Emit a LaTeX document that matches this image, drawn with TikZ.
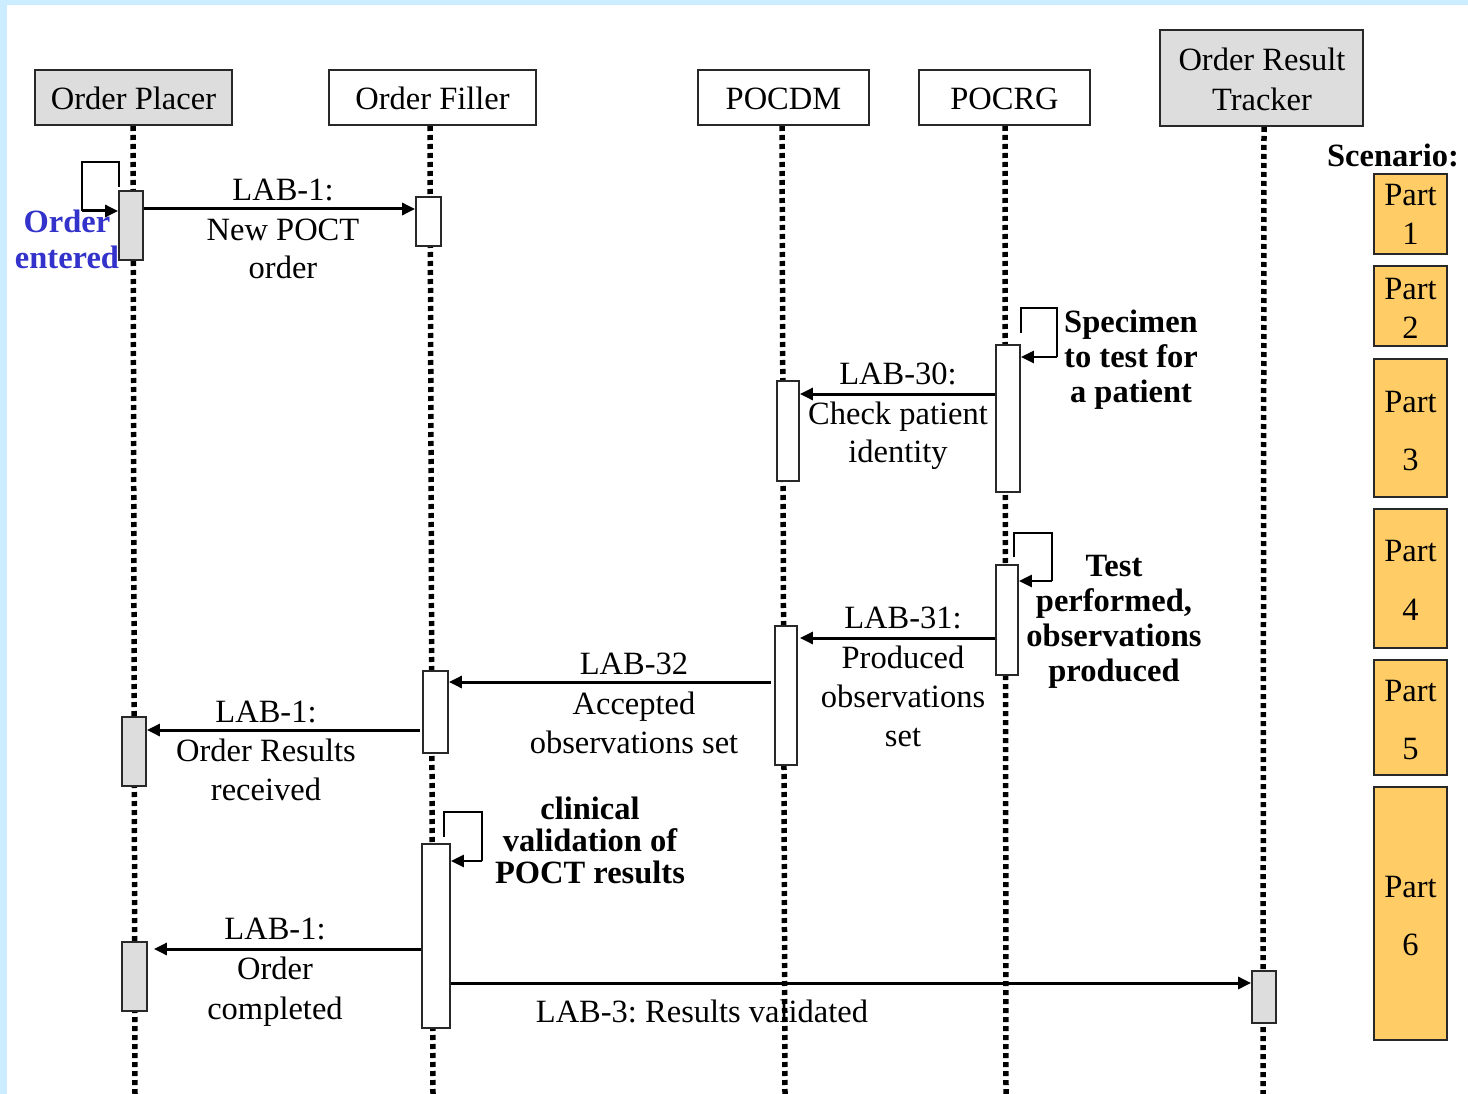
\documentclass[tikz,border=0pt]{standalone}
\usepackage{fontspec}
\setmainfont{Liberation Serif}
\usetikzlibrary{arrows.meta,calc}
\definecolor{bgblue}{RGB}{204,236,255}
\definecolor{actgray}{RGB}{221,221,221}
\definecolor{partorange}{RGB}{255,204,102}
\definecolor{bluetxt}{RGB}{51,51,204}
\definecolor{edgec}{RGB}{40,40,40}
\pgfdeclarelayer{bgl}
\pgfdeclarelayer{msgs}
\pgfdeclarelayer{lines}
\pgfsetlayers{bgl,msgs,lines,main}
\frenchspacing
\begin{document}
\begin{tikzpicture}[x=1pt,y=-1pt,
  txt/.style={font=\fontsize{32.5}{39}\selectfont, inner sep=0pt, anchor=base},
  btxt/.style={font=\fontsize{32.5}{39}\selectfont\bfseries, inner sep=0pt, anchor=base},
  hdr/.style={draw=edgec, line width=1.8pt, rectangle, inner sep=0pt, fill=white, font=\fontsize{32.5}{39}\selectfont, text height=25pt, text depth=0pt},
  act/.style={draw=edgec, line width=1.8pt, fill=white, rectangle, inner sep=0pt},
  lifeline/.style={line width=5.5pt, dash pattern=on 5pt off 4pt},
  msg/.style={line width=3pt, -{Triangle[length=13pt,width=12pt]}},
  loopline/.style={line width=1.8pt},
  partbox/.style={draw=edgec, line width=1.8pt, fill=partorange, rectangle, inner sep=0pt, minimum width=73pt},
]
\useasboundingbox (0,0) rectangle (1468,1094);
\begin{pgfonlayer}{bgl}
\fill[bgblue] (0,0) rectangle (1468,1094);
\fill[white] (7,5) rectangle (1468,1094);
\end{pgfonlayer}

% headers
\node[hdr, fill=actgray, minimum width=197pt, minimum height=55pt] (hop) at (133.5,97.5) {Order Placer};
\node[hdr, minimum width=207pt, minimum height=55pt] (hof) at (432.5,97.5) {Order Filler};
\node[hdr, minimum width=171pt, minimum height=55pt] (hdm) at (783.5,97.5) {POCDM};
\node[hdr, minimum width=171pt, minimum height=55pt] (hrg) at (1004.5,97.5) {POCRG};
\node[hdr, fill=actgray, minimum width=203pt, minimum height=96pt] (hort) at (1261.5,78) {};
\node[txt] (tort1) at (1262,71) {Order Result};
\node[txt] (tort2) at (1262,111) {Tracker};

% lifeline ends
\coordinate (op0) at (133,126); \coordinate (opE) at (135,1094);
\coordinate (of0) at (430,126); \coordinate (ofE) at (433,1094);
\coordinate (dm0) at (782,126); \coordinate (dmE) at (785,1094);
\coordinate (rg0) at (1005,126); \coordinate (rgE) at (1006,1094);
\coordinate (or0) at (1264,127); \coordinate (orE) at (1263,1094);
\begin{pgfonlayer}{lines}
\draw[lifeline] (op0) -- (opE);
\draw[lifeline] (of0) -- (ofE);
\draw[lifeline] (dm0) -- (dmE);
\draw[lifeline] (rg0) -- (rgE);
\draw[lifeline] (or0) -- (orE);
\end{pgfonlayer}

% activation boxes
\node[act, fill=actgray, minimum width=24pt, minimum height=69pt] (op1) at (131,225.5) {};
\node[act, minimum width=25pt, minimum height=49pt] (of1) at (428.5,221.5) {};
\node[act, minimum width=24pt, minimum height=147pt] (rg1) at (1008,418.5) {};
\node[act, minimum width=22pt, minimum height=100pt] (dm1) at (788,431) {};
\node[act, minimum width=22pt, minimum height=110pt] (rg2) at (1007,620) {};
\node[act, minimum width=22pt, minimum height=139pt] (dm2) at (786,695.5) {};
\node[act, minimum width=25pt, minimum height=82pt] (of2) at (435.5,712) {};
\node[act, fill=actgray, minimum width=24pt, minimum height=69pt] (op2) at (134,751.5) {};
\node[act, minimum width=28pt, minimum height=184pt] (of3) at (436,936) {};
\node[act, fill=actgray, minimum width=25pt, minimum height=69pt] (op3) at (134.5,976.5) {};
\node[act, fill=actgray, minimum width=24pt, minimum height=52pt] (ort1) at (1264,997) {};

% scenario parts
\node[btxt] (scen) at (1393,167) {Scenario:};
\node[partbox, minimum height=80pt] (p1) at (1410.5,214) {};
\node[partbox, minimum height=80pt] (p2) at (1410.5,306) {};
\node[partbox, minimum height=138pt] (p3) at (1410.5,428) {};
\node[partbox, minimum height=139pt] (p4) at (1410.5,578.5) {};
\node[partbox, minimum height=115pt] (p5) at (1410.5,717.5) {};
\node[partbox, minimum height=253pt] (p6) at (1410.5,913.5) {};
\node[txt] at (1410.5,206) {Part}; \node[txt] at (1410.5,245) {1};
\node[txt] at (1410.5,299) {Part}; \node[txt] at (1410.5,338) {2};
\node[txt] at (1410.5,412) {Part}; \node[txt] at (1410.5,470) {3};
\node[txt] at (1410.5,561) {Part}; \node[txt] at (1410.5,620) {4};
\node[txt] at (1410.5,701) {Part}; \node[txt] at (1410.5,759) {5};
\node[txt] at (1410.5,897) {Part}; \node[txt] at (1410.5,955) {6};

\begin{pgfonlayer}{msgs}
% labels
\node[txt] at (283,201) {LAB-1:};
\node[txt] at (283,241) {New POCT};
\node[txt] at (283,279) {order};
\node[btxt, text=bluetxt] at (67,233) {Order};
\node[btxt, text=bluetxt] at (67,269) {entered};
\node[btxt] at (1131,332) {Specimen};
\node[btxt] at (1131,367) {to test for};
\node[btxt] at (1131,402) {a patient};
\node[txt] at (898,384) {LAB-30:};
\node[txt] at (898,424) {Check patient};
\node[txt] at (898,462) {identity};
\node[btxt] at (1114,576) {Test};
\node[btxt] at (1114,611) {performed,};
\node[btxt] at (1114,646) {observations};
\node[btxt] at (1114,681) {produced};
\node[txt] at (903,628) {LAB-31:};
\node[txt] at (903,668) {Produced};
\node[txt] at (903,707) {observations};
\node[txt] at (903,746) {set};
\node[txt] at (634,674) {LAB-32};
\node[txt] at (634,714) {Accepted};
\node[txt] at (634,753) {observations set};
\node[txt] at (266,722) {LAB-1:};
\node[txt] at (266,761) {Order Results};
\node[txt] at (266,800) {received};
\node[btxt] at (590,819) {clinical};
\node[btxt] at (590,851) {validation of};
\node[btxt] at (590,883) {POCT results};
\node[txt] at (275,939) {LAB-1:};
\node[txt] at (275,979) {Order};
\node[txt] at (275,1019) {completed};
\node[txt] at (702,1022) {LAB-3: Results validated};

% message levels
\coordinate (m1) at (0,209);
\coordinate (m30) at (0,394);
\coordinate (m31) at (0,638);
\coordinate (m32) at (0,682);
\coordinate (m1b) at (0,730);
\coordinate (m1c) at (0,949);
\coordinate (m3) at (0,983);
\draw[msg] (op1.east |- m1) -- (of1.west |- m1);
\draw[msg] (rg1.west |- m30) -- (dm1.east |- m30);
\draw[msg] (rg2.west |- m31) -- ([xshift=2pt]dm2.east |- m31);
\draw[msg] ([xshift=-3pt]dm2.west |- m32) -- (of2.east |- m32);
\draw[msg] ([xshift=-2pt]of2.west |- m1b) -- (op2.east |- m1b);
\draw[msg, shorten >=6pt] (of3.west |- m1c) -- (op3.east |- m1c);
\draw[msg] (of3.east |- m3) -- (ort1.west |- m3);

% self loops
\coordinate (la1) at (119,187); \coordinate (la2) at (82,162); \coordinate (la3) at (82,211);
\draw[loopline] (la1) |- (la2) -- (la3);
\draw[msg] (la3) -- (op1.west |- la3);
\coordinate (lb1) at (1021,333); \coordinate (lb2) at (1057,308); \coordinate (lb3) at (1057,357);
\draw[loopline] (lb1) |- (lb2) -- (lb3);
\draw[msg, line width=2.5pt] (lb3) -- (rg1.east |- lb3);
\coordinate (lc1) at (1014,557); \coordinate (lc2) at (1052,533); \coordinate (lc3) at (1052,581);
\draw[loopline] (lc1) |- (lc2) -- (lc3);
\draw[msg, line width=2.5pt] (lc3) -- (rg2.east |- lc3);
\coordinate (ld1) at (444,837); \coordinate (ld2) at (482,812); \coordinate (ld3) at (482,861);
\draw[loopline] (ld1) |- (ld2) -- (ld3);
\draw[msg, line width=2.5pt] (ld3) -- (of3.east |- ld3);
\end{pgfonlayer}
\end{tikzpicture}
\end{document}
